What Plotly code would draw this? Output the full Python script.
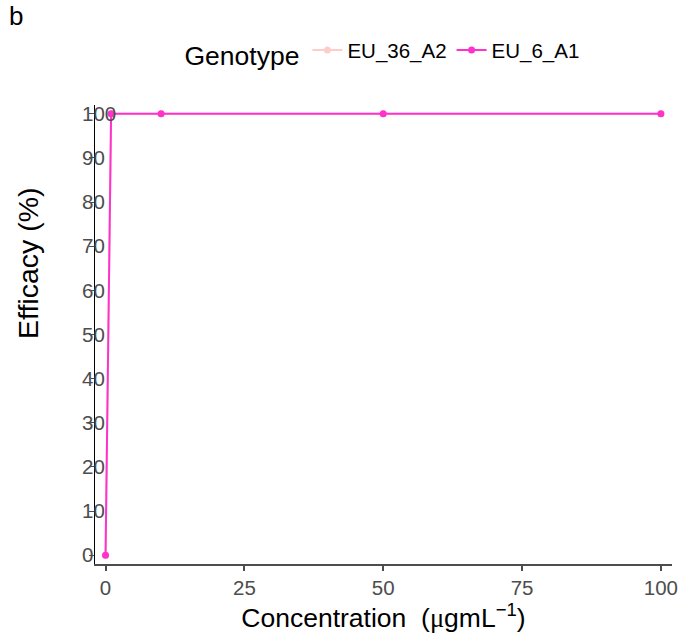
import plotly.graph_objects as go

# Dose-response efficacy per genotype
concentration = [0, 1, 10, 50, 100]
genotypes = ["EU_36_A2", "EU_6_A1"]
efficacy_eu36 = [0, 100, 100, 100, 100]
efficacy_eu6 = [0, 100, 100, 100, 100]
colors = ["#FFCCCC", "#FF33CC"]
y_ticks = [0, 10, 20, 30, 40, 50, 60, 70, 80, 90, 100]
x_ticks = [0, 25, 50, 75, 100]

FONT = "Liberation Sans, Arial, sans-serif"
GREY = "#4d4d4d"
Y_RANGE = [-2, 102]

# Left margin leaves room for the tick-label axis; the panel starts a bit further right
L, R, T, B = 70, 28, 105, 78
W, H = 700, 642
PW, PH = W - L - R, H - T - B
panel_left = 95
dom0 = (panel_left - L) / PW
label_pos = (81 - L) / PW

fig = go.Figure()
# second genotype is drawn on the overlay axis so it sits on top
for name, vals, col, yax in zip(genotypes, [efficacy_eu36, efficacy_eu6], colors, ["y", "y2"]):
    fig.add_trace(go.Scatter(
        x=concentration, y=vals, name=name, mode="lines+markers",
        line=dict(color=col, width=2),
        marker=dict(color=col, size=7),
        yaxis=yax,
    ))

fig.update_layout(
    width=W, height=H,
    paper_bgcolor="white", plot_bgcolor="white",
    margin=dict(l=L, r=R, t=T, b=B),
    font=dict(family=FONT, color="black"),
    legend=dict(
        orientation="h", x=0.5 * (1 + dom0), xanchor="center",
        y=1.065, yanchor="bottom",
        title=dict(text="Genotype", font=dict(size=26.5)),
        font=dict(size=20.5), itemwidth=30,
    ),
    annotations=[
        dict(text="b", x=(7 - L) / PW, y=1.232, xref="paper", yref="paper",
             xanchor="left", yanchor="top", showarrow=False, font=dict(size=26)),
        dict(text="Efficacy (%)", x=(28 - L) / PW, y=(H - B - 263) / PH,
             xref="paper", yref="paper", xanchor="center", yanchor="middle",
             textangle=-90, showarrow=False, font=dict(size=28.5)),
    ],
)

fig.update_layout(
    xaxis=dict(
        domain=[dom0, 1],
        range=[-1.9, 102], tickvals=x_ticks, ticktext=[str(v) for v in x_ticks],
        showgrid=False, zeroline=False,
        showline=True, linecolor=GREY, linewidth=1.5,
        ticks="outside", ticklen=5, tickcolor=GREY, tickwidth=1.5,
        tickfont=dict(size=20.5, color=GREY),
        title=dict(text="Concentration  (<span style='font-family:Liberation Serif'>μ</span>gmL<sup>−1</sup>)",
                   font=dict(size=26.5), standoff=8),
    ),
    yaxis=dict(
        range=Y_RANGE, tickvals=y_ticks, showticklabels=False,
        showgrid=False, zeroline=False,
        showline=True, linecolor="black", linewidth=1.2,
        ticks="outside", ticklen=5, tickcolor=GREY, tickwidth=1.2,
    ),
    # tick labels sit over the axis line, left-aligned
    yaxis2=dict(
        overlaying="y", side="right", anchor="free", position=label_pos,
        range=Y_RANGE, tickvals=y_ticks, ticktext=[str(v) for v in y_ticks],
        showgrid=False, zeroline=False, showline=False, ticks="",
        ticklabelstandoff=0,
        tickfont=dict(size=20.5, color=GREY),
    ),
)

fig.write_html("out.html")
